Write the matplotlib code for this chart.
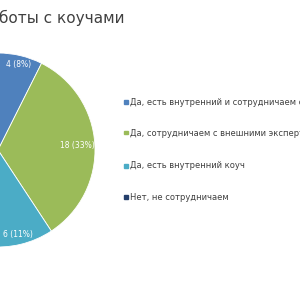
#!/usr/bin/env python3

import numpy as np
from matplotlib import pyplot as plt

title = 'Опыт работы с коучами'
answers = ['Да, есть внутренний и сотрудничаем с внешними',
           'Да, сотрудничаем с внешними экспертами',
           'Да, есть внутренний коуч',
           'Нет, не сотрудничаем']
counts = [4, 18, 6, 26]
percents = [8, 33, 11, 48]
colors = ['#4f81bd', '#9bbb59', '#4bacc6', '#243f6b']


def main():
    fig = plt.figure(figsize=(3, 3), dpi=100)
    # pie centre sits just off the left edge of the crop
    cx, cy, r = -2, 150, 97
    ax = fig.add_axes([(cx - r) / 300, (300 - cy - r) / 300, 2 * r / 300, 2 * r / 300])
    wedges, _ = ax.pie(counts, colors=colors, startangle=90, counterclock=False,
                       radius=1, wedgeprops=dict(edgecolor='white', linewidth=0.6))
    ax.set_xlim(-1, 1)
    ax.set_ylim(-1, 1)
    ax.set_aspect('equal')
    ax.axis('off')

    # data labels inside wedges
    label_r = [0.91, 0.82, 0.9, 0.6]
    for w, n, p, lr in zip(wedges, counts, percents, label_r):
        ang = np.deg2rad((w.theta1 + w.theta2) / 2)
        ax.text(lr * np.cos(ang), lr * np.sin(ang), f'{n} ({p}%)', color='white',
                fontsize=5.5, ha='center', va='center', clip_on=False)

    fig.text(125 / 300, 1 - 18 / 300, title, ha='right', va='center',
             fontsize=11, color='#404040')

    ys = [102, 133, 166, 197]
    for a, c, y in zip(answers, colors, ys):
        fig.patches.append(plt.Rectangle((124 / 300, 1 - (y + 1.5) / 300), 3.5 / 300, 3.5 / 300,
                                         transform=fig.transFigure, color=c))
        fig.text(130 / 300, 1 - y / 300, a, ha='left', va='center',
                 fontsize=6, color='#404040')

    fig.savefig('out.png', dpi=100)


if __name__ == '__main__':
    main()
